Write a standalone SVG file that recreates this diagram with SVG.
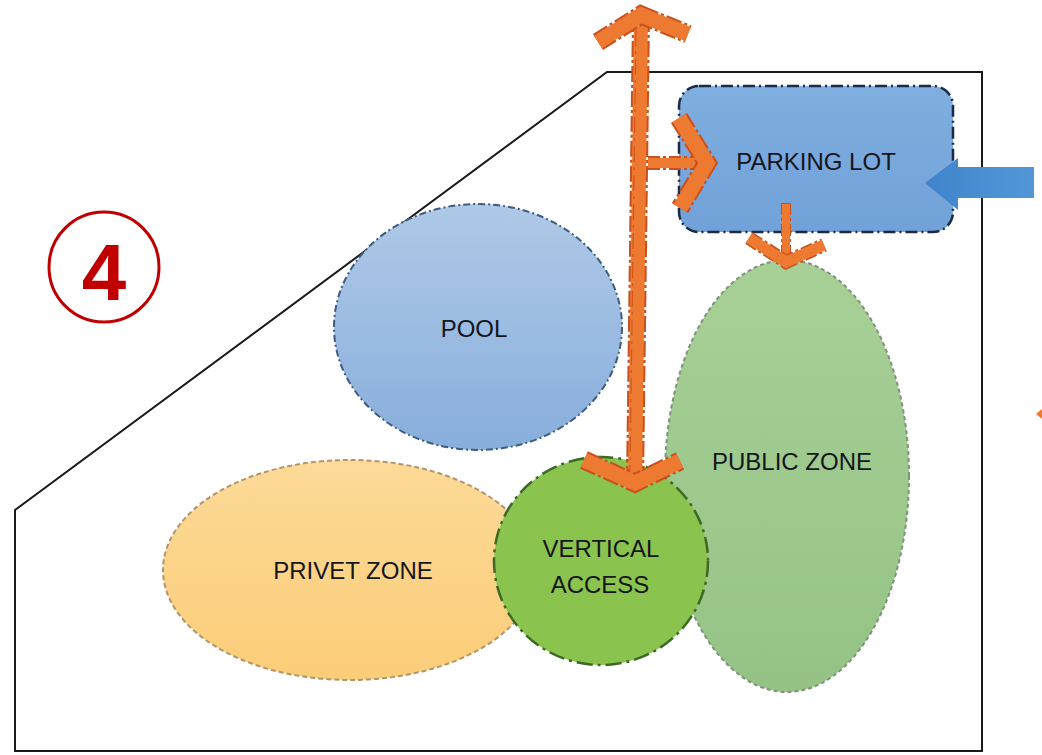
<svg xmlns="http://www.w3.org/2000/svg" width="1042" height="755" viewBox="0 0 1042 755">
  <defs>
    <linearGradient id="gPool" x1="0" y1="0" x2="0" y2="1">
      <stop offset="0" stop-color="#AFC9E7"/>
      <stop offset="1" stop-color="#88AEDC"/>
    </linearGradient>
    <linearGradient id="gPark" x1="0" y1="0" x2="0" y2="1">
      <stop offset="0" stop-color="#80AEDF"/>
      <stop offset="1" stop-color="#70A1D8"/>
    </linearGradient>
    <linearGradient id="gPublic" x1="0" y1="0" x2="0" y2="1">
      <stop offset="0" stop-color="#A7D097"/>
      <stop offset="1" stop-color="#95C385"/>
    </linearGradient>
    <linearGradient id="gPrivet" x1="0" y1="0" x2="0" y2="1">
      <stop offset="0" stop-color="#FDDA98"/>
      <stop offset="1" stop-color="#FBCD78"/>
    </linearGradient>
    <linearGradient id="gBlue" x1="0" y1="0" x2="1" y2="0">
      <stop offset="0" stop-color="#3F84CB"/>
      <stop offset="1" stop-color="#5298D8"/>
    </linearGradient>
  </defs>
  <style>
    .lbl { font-family: "Liberation Sans", Arial, sans-serif; font-size: 24px; fill: #15151c; text-anchor: middle; }
    .arrowOut { fill: none; stroke: #C9511D; stroke-width: 19; stroke-dasharray: 16 3 3 3; stroke-linejoin: miter; stroke-miterlimit: 10; }
    .arrowIn { fill: none; stroke: #EE7A32; stroke-width: 15; stroke-linejoin: miter; stroke-miterlimit: 10; }
    .arrowOutS { fill: none; stroke: #C9511D; stroke-width: 14; stroke-dasharray: 12 3 3 3; stroke-linejoin: miter; stroke-miterlimit: 10; }
    .arrowInS { fill: none; stroke: #EE7A32; stroke-width: 11; stroke-linejoin: miter; stroke-miterlimit: 10; }
    .shaftS { fill: none; stroke: #EE7A32; stroke-width: 8; }
    .shaftSO { fill: none; stroke: #C9511D; stroke-width: 10; stroke-dasharray: 12 3 3 3; }
  </style>
  <rect x="0" y="0" width="1042" height="755" fill="#ffffff"/>

  <g id="site-boundary">
    <polygon points="15,510 607,72 982,72 982,751 15,751" fill="none" stroke="#1a1a1a" stroke-width="2"/>
  </g>

  <g id="badge-4">
    <circle cx="104" cy="267" r="55" fill="none" stroke="#C00000" stroke-width="3"/>
    <text x="104" y="300" font-family="Liberation Sans, Arial, sans-serif" font-size="80" font-weight="bold" fill="#C00000" text-anchor="middle">4</text>
  </g>

  <g id="pool">
    <ellipse cx="478" cy="327" rx="144" ry="123" fill="url(#gPool)" stroke="#3D5C82" stroke-width="2" stroke-dasharray="7 3 2 3"/>
    <text class="lbl" x="474" y="337" font-size="22">POOL</text>
  </g>

  <g id="privet-zone">
    <ellipse cx="350" cy="570" rx="187" ry="110" fill="url(#gPrivet)" stroke="#B3956A" stroke-width="2" stroke-dasharray="5 3"/>
    <text class="lbl" x="353" y="579">PRIVET ZONE</text>
  </g>

  <g id="public-zone">
    <ellipse cx="787" cy="476" rx="122" ry="216" fill="url(#gPublic)" stroke="#7F927A" stroke-width="2" stroke-dasharray="4 3"/>
    <text class="lbl" x="792" y="470">PUBLIC ZONE</text>
  </g>

  <g id="vertical-access">
    <ellipse cx="601" cy="561" rx="107" ry="104" fill="#8BC34F" stroke="#3C6A24" stroke-width="2.5" stroke-dasharray="16 5 3 5"/>
    <text class="lbl" x="601" y="557">VERTICAL</text>
    <text class="lbl" x="600" y="593">ACCESS</text>
  </g>

  <g id="parking-lot">
    <rect x="679" y="86" width="274" height="146" rx="20" ry="20" fill="url(#gPark)" stroke="#1C2A45" stroke-width="2.5" stroke-dasharray="12 4 2 4"/>
    <text class="lbl" x="816" y="170">PARKING LOT</text>
  </g>

  <g id="connectors">
    <!-- blue entry arrow -->
    <polygon points="1034,167 958,167 958,158 925,183 958,210 958,198 1034,198" fill="url(#gBlue)"/>
    <!-- main vertical double arrow -->
    <line x1="641" y1="16" x2="635" y2="482" stroke="#C9511D" stroke-width="18" stroke-dasharray="16 3 3 3"/>
    <line x1="641" y1="16" x2="635" y2="482" stroke="#EE7A32" stroke-width="14"/>
    <line x1="636" y1="30" x2="630" y2="470" stroke="#D0561F" stroke-width="1.2" stroke-dasharray="16 5 3 5"/>
    <polyline class="arrowOut" points="598,42 641,15 688,34"/>
    <polyline class="arrowIn" points="598,42 641,15 688,34"/>
    <polyline class="arrowOut" points="584,460 635,483 680,461"/>
    <polyline class="arrowIn" points="584,460 635,483 680,461"/>
    <!-- branch to parking -->
    <line x1="648" y1="163" x2="706" y2="163" stroke="#C9511D" stroke-width="14" stroke-dasharray="12 3 3 3"/>
    <line x1="648" y1="163" x2="706" y2="163" stroke="#EE7A32" stroke-width="10"/>
    <polyline class="arrowOut" points="679,118 707,163 680,208"/>
    <polyline class="arrowIn" points="679,118 707,163 680,208"/>
    <!-- parking to public zone -->
    <line class="shaftSO" x1="786" y1="203" x2="786" y2="260"/>
    <line class="shaftS" x1="786" y1="204" x2="786" y2="260"/>
    <polyline class="arrowOutS" points="749,238 786,262 824,245"/>
    <polyline class="arrowInS" points="749,238 786,262 824,245"/>
    <!-- small orange mark at right edge -->
    <polygon points="1036,414 1042,409 1042,419" fill="#EE7A32"/>
  </g>
</svg>
